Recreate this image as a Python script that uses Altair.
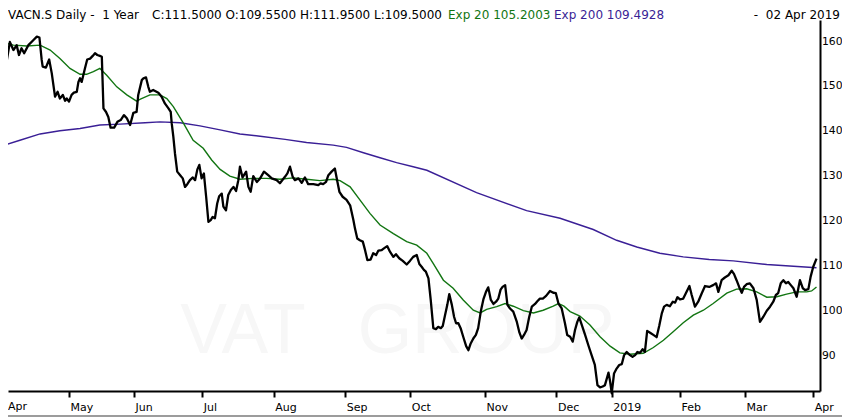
import altair as alt
import pandas as pd

# ---- data (x = trading-day number since 3 Apr 2018) ----
price_points = [
(0.0,159.1),(0.8,155.4),(1.8,159.8),(2.9,158.0),(3.9,159.1),(4.6,156.9),(5.4,158.4),(6.2,157.3),(7.5,159.1),(9.0,160.2),
(10.1,161.0),(10.9,160.8),(11.6,155.8),(11.9,154.3),(12.9,154.1),(13.9,155.9),(14.7,152.8),(15.7,147.6),(16.5,148.7),(17.2,147.2),
(18.1,148.0),(18.8,146.7),(19.3,147.2),(20.0,146.5),(20.8,148.0),(21.5,148.5),(22.4,148.7),(22.9,150.9),(23.4,151.7),(23.9,150.9),
(24.9,153.9),(25.6,155.9),(26.5,156.1),(27.3,156.7),(28.0,157.3),(28.7,156.9),(29.5,156.7),(30.1,156.5),(30.6,145.0),(31.4,144.2),
(32.1,143.1),(32.8,140.7),(33.9,140.7),(34.9,142.0),(35.9,142.4),(36.9,143.5),(37.8,142.8),(38.8,141.3),(39.8,144.0),(40.8,144.2),
(41.3,148.0),(42.4,151.3),(42.9,151.7),(43.7,151.9),(44.4,149.8),(44.9,148.7),(45.9,149.1),(47.5,148.5),(48.5,147.6),(49.5,146.1),
(50.6,145.0),(51.3,144.2),(51.6,141.7),(52.1,138.7),(52.6,135.0),(53.3,130.9),(54.2,130.1),(55.0,129.4),(55.7,127.5),(56.4,128.1),
(57.2,129.0),(58.1,129.6),(58.8,129.0),(59.5,131.4),(60.1,132.4),(60.8,129.4),(61.5,130.5),(62.2,125.3),(62.9,119.7),(63.6,120.1),
(64.2,120.8),(64.9,120.5),(65.6,123.8),(66.2,125.4),(67.0,126.0),(67.5,123.1),(68.3,122.3),(69.0,125.7),(69.8,126.8),(70.6,127.5),
(71.4,126.6),(72.1,129.0),(72.6,132.0),(73.4,129.6),(74.5,130.9),(75.2,127.5),(75.9,126.4),(76.7,129.9),(77.8,128.6),(78.8,129.4),
(80.0,130.9),(81.3,130.1),(82.4,129.4),(83.9,129.0),(84.9,128.3),(86.5,129.8),(87.2,130.5),(88.0,132.0),(88.8,129.8),(89.5,129.0),
(90.6,129.4),(91.6,128.4),(92.6,129.6),(93.6,128.1),(95.2,128.1),(96.7,127.9),(97.4,128.3),(98.2,128.1),(99.1,128.6),(99.8,130.1),
(100.8,130.9),(101.8,131.6),(102.6,128.6),(103.2,126.4),(104.2,125.3),(105.4,124.6),(106.5,123.4),(107.5,120.1),(108.0,118.2),(108.7,116.0),
(109.5,115.6),(110.4,115.3),(111.1,113.4),(111.8,111.2),(112.8,111.3),(113.6,112.7),(114.5,112.3),(115.2,113.3),(116.2,113.4),(116.9,113.8),
(117.9,114.3),(118.8,113.0),(119.8,111.9),(120.6,112.5),(121.6,111.6),(122.7,111.0),(123.9,110.2),(124.9,111.0),(125.9,111.9),(127.0,112.3),
(127.8,110.3),(128.5,109.7),(129.2,109.0),(129.8,108.6),(130.6,107.1),(131.3,102.3),(132.1,96.0),(132.9,95.8),(133.6,96.3),(134.4,96.0),
(135.0,96.5),(135.7,98.9),(136.4,101.2),(137.0,103.6),(137.8,101.2),(138.5,98.5),(139.1,97.1),(139.8,97.1),(140.5,96.0),(141.3,94.1),
(142.2,92.0),(142.9,91.1),(143.6,92.6),(144.4,93.7),(145.2,94.5),(145.9,96.0),(146.7,99.7),(147.5,102.4),(148.3,104.1),(149.0,105.1),
(149.8,102.3),(150.6,101.4),(151.4,101.9),(152.1,102.6),(152.8,104.6),(153.4,105.2),(154.2,105.6),(154.9,101.2),(155.7,100.4),(156.7,99.7),
(157.8,97.4),(158.6,95.0),(159.3,93.7),(160.0,94.5),(160.8,95.6),(161.6,98.5),(162.4,100.8),(163.4,101.4),(164.1,102.0),(164.9,102.6),
(165.8,102.6),(166.8,103.2),(168.0,104.3),(169.0,103.9),(169.8,103.8),(170.6,101.5),(171.6,100.4),(172.6,97.1),(173.3,94.5),(174.2,94.1),
(175.0,93.0),(175.7,95.6),(176.4,97.4),(177.0,98.4),(177.8,96.7),(178.8,94.5),(179.8,92.2),(180.8,90.0),(181.8,87.8),(182.6,83.3),
(183.4,82.8),(184.2,83.0),(184.9,83.3),(186.0,86.1),(186.5,84.1),(187.0,81.5),(187.7,85.9),(188.5,87.0),(189.3,87.8),(190.1,88.0),
(190.8,90.0),(191.6,90.7),(192.6,90.0),(193.4,89.6),(194.2,90.0),(194.9,90.7),(195.7,90.5),(196.5,91.3),(197.2,90.7),(197.9,95.4),
(198.8,95.0),(199.8,94.5),(200.8,94.0),(201.6,96.5),(202.4,99.3),(203.1,100.8),(203.9,101.2),(204.9,100.9),(205.8,101.9),(206.5,101.7),
(207.2,102.9),(208.0,102.4),(209.0,102.6),(209.8,103.8),(210.9,105.4),(211.6,103.4),(212.6,100.8),(213.6,101.9),(214.7,103.8),(215.7,105.4),
(217.0,105.2),(218.2,105.6),(219.1,106.0),(219.8,104.1),(220.8,106.7),(221.8,107.3),(222.9,107.8),(223.9,108.8),(224.6,108.1),(225.4,106.7),
(226.2,105.2),(227.0,103.9),(227.7,105.2),(228.5,105.8),(229.5,106.0),(230.6,104.9),(231.6,102.3),(232.6,97.4),(233.6,98.5),(234.7,99.9),
(235.7,100.8),(236.7,101.9),(237.5,103.4),(238.2,103.8),(239.0,106.0),(239.8,106.7),(240.6,106.0),(241.3,106.3),(242.1,105.6),(242.9,104.9),
(243.9,103.0),(244.9,106.7),(245.8,104.9),(246.5,104.5),(247.5,104.7),(248.2,107.5),(249.0,109.7),(250.0,111.5),
]

ema20_points = [
(0.0,159.6),(2.9,159.1),(7.0,158.9),(11.1,159.1),(14.2,158.0),(17.2,156.1),(20.3,153.9),(23.4,152.6),(25.4,152.6),(27.5,153.2),
(29.5,153.9),(31.6,152.4),(34.7,149.8),(37.8,148.0),(40.8,146.6),(41.8,147.0),(44.9,148.0),(48.0,148.0),(50.1,147.2),(52.1,145.4),
(55.2,141.7),(58.2,137.9),(61.3,136.1),(63.9,133.5),(66.5,131.4),(69.5,129.9),(72.6,129.2),(76.7,129.4),(80.8,129.4),(84.9,129.2),
(89.0,129.5),(93.1,129.2),(97.2,128.9),(101.3,129.2),(103.4,128.9),(106.5,127.5),(109.5,124.6),(112.6,121.6),(115.7,119.0),(119.8,117.1),
(123.9,115.3),(127.0,114.5),(130.1,112.7),(132.1,110.4),(135.2,106.7),(138.2,104.9),(141.3,102.3),(144.4,100.0),(146.5,99.4),(148.5,100.2),
(151.6,100.8),(154.2,101.5),(156.7,100.9),(159.8,99.9),(162.9,99.4),(165.9,100.0),(169.0,100.9),(170.6,101.5),(172.3,100.9),(174.2,99.7),
(177.2,98.7),(180.3,96.7),(183.4,94.1),(186.5,92.0),(189.5,90.5),(192.6,90.2),(196.7,90.4),(199.8,91.7),(202.9,93.3),(205.9,95.2),
(209.0,97.2),(212.1,98.9),(215.2,100.0),(218.2,101.5),(222.4,103.8),(225.4,104.7),(228.5,104.8),(231.6,104.1),(234.7,102.9),(237.8,103.0),
(240.8,103.6),(243.9,104.1),(247.0,104.1),(248.5,104.3),(250.0,105.2),
]

ema200_points = [
(0.0,136.8),(4.9,137.9),(11.1,139.3),(17.2,140.0),(23.4,140.5),(29.5,141.3),(35.7,141.5),(43.4,141.8),(48.0,142.0),(54.2,141.8),
(60.3,141.1),(66.5,140.2),(72.6,139.3),(78.8,138.8),(86.5,138.1),(93.1,137.4),(101.3,136.8),(105.4,136.3),(110.6,135.1),(115.7,134.0),
(120.8,132.9),(125.9,132.0),(130.1,131.2),(145.4,126.2),(160.8,122.2),(171.1,120.5),(181.3,118.0),(188.5,115.6),(194.7,114.1),(201.8,112.7),
(209.0,111.9),(217.0,111.3),(224.4,111.0),(234.7,110.2),(242.9,109.8),(250.0,109.49),
]

month_tick_day = [0, 20, 40, 61, 83, 105, 125, 148, 170, 187, 208, 228, 249]
month_tick_label = ["Apr", "May", "Jun", "Jul", "Aug", "Sep", "Oct", "Nov", "Dec", "2019", "Feb", "Mar", "Apr"]
price_ticks = [90, 100, 110, 120, 130, 140, 150, 160]

header_left = "VACN.S Daily -\u00a0\u00a01 Year"
header_ohlc = "C:111.5000 O:109.5500 H:111.9500 L:109.5000"
header_ema20 = "Exp 20 105.2003"
header_ema200 = "Exp 200 109.4928"
header_date = "-\u00a0\u00a002 Apr 2019"
watermark_words = ["VAT", "GROUP"]

# ---- styling ----
FONT = "DejaVu Sans"
GREEN = "#127512"
PURPLE = "#3a1f96"
BORDER = "#9c9c9c"
W, H = 812, 371
HEADER_Y = -1

def frame(points):
    return pd.DataFrame(points, columns=["day", "value"])


price_df = frame(price_points)
ema20_df = frame(ema20_points)
ema200_df = frame(ema200_points)

label_expr = " : ".join(
    f"datum.value == {d} ? '{l}'" for d, l in zip(month_tick_day[1:], month_tick_label[1:])
) + " : ''"

x_scale = alt.Scale(domain=[1.2308, 251.077], nice=False, zero=False)
y_scale = alt.Scale(domain=[82.0, 164.7], nice=False, zero=False)

x_axis = alt.Axis(
    values=month_tick_day[1:], labelExpr=label_expr, title=None, grid=False,
    domainColor="black", domainWidth=2, tickColor="black", tickWidth=2, tickSize=6,
    labelAlign="left", labelBaseline="alphabetic", labelPadding=13, labelOffset=1,
    labelFont=FONT, labelFontSize=11, labelColor="black", labelFlush=False, labelOverlap=False,
)
y_axis = alt.Axis(
    orient="right", values=price_ticks, title=None, grid=False, ticks=False,
    domainColor="black", domainWidth=2, labelAlign="left", labelBaseline="middle",
    labelPadding=1.5, labelFont=FONT, labelFontSize=10.8, labelColor="black", labelFlush=False,
)

x_enc = alt.X("day:Q", scale=x_scale, axis=x_axis)
y_enc = alt.Y("value:Q", scale=y_scale, axis=y_axis)


def text(txt, x, y, color="black", align="left", size=12, font=FONT):
    return alt.Chart(pd.DataFrame({"t": [txt]})).mark_text(
        align=align, baseline="alphabetic", font=font, fontSize=size, color=color
    ).encode(text="t:N", x=alt.value(x), y=alt.value(y))


watermark = [
    text(watermark_words[0], 235, 333, color="#f7f7f7", align="center", size=70, font="Liberation Sans"),
    text(watermark_words[1], 478, 333, color="#f7f7f7", align="center", size=70, font="Liberation Sans"),
]

ema200_line = alt.Chart(ema200_df).mark_line(color=PURPLE, strokeWidth=1.4).encode(x=x_enc, y=y_enc)
ema20_line = alt.Chart(ema20_df).mark_line(color=GREEN, strokeWidth=1.4).encode(x=x_enc, y=y_enc)
price_line = alt.Chart(price_df).mark_line(color="black", strokeWidth=2.3, strokeJoin="round").encode(x=x_enc, y=y_enc)

headers = [
    text(header_left, 0, HEADER_Y),
    text(header_ohlc, 434, HEADER_Y, align="right"),
    text(header_ema20, 440, HEADER_Y, color=GREEN),
    text(header_ema200, 546, HEADER_Y, color=PURPLE),
    text(header_date, 832, HEADER_Y, align="right"),
]

first_month_label = text(month_tick_label[0], 0, H + 19, size=11)

bottom_border = alt.Chart(pd.DataFrame({"a": [0]})).mark_rule(color=BORDER, strokeWidth=2).encode(
    x=alt.value(0), x2=alt.value(834), y=alt.value(396))

chart = alt.layer(
    *watermark, ema200_line, ema20_line, price_line, *headers, first_month_label,
    bottom_border,
).properties(
    width=W, height=H,
    padding={"left": 0, "top": 12, "right": 22, "bottom": 26},
    autosize=alt.AutoSizeParams(type="none"),
    background="white",
).configure_view(stroke=None)

chart.save("out.html", embed_options={"renderer": "svg", "actions": False})
